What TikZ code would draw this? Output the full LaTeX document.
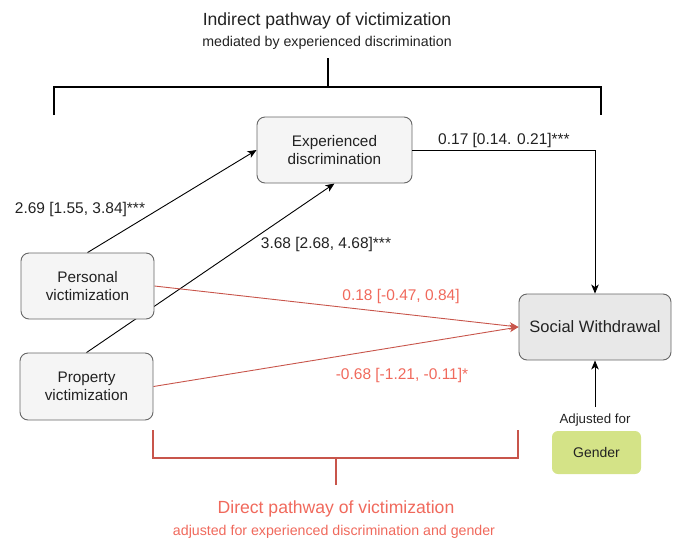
\documentclass[tikz,border=0pt]{standalone}
\usepackage{fontspec}
\setmainfont{Liberation Sans}
\usetikzlibrary{arrows.meta,backgrounds}
\definecolor{boxfill}{RGB}{245,245,245}
\definecolor{boxline}{RGB}{102,102,102}
\definecolor{socfill}{RGB}{232,232,232}
\definecolor{gendfill}{RGB}{212,227,135}
\definecolor{redline}{RGB}{200,85,75}
\definecolor{redtext}{RGB}{240,105,92}
\definecolor{txt}{RGB}{34,34,34}
\tikzset{
  vbox/.style={draw=boxline, fill=boxfill, rounded corners=8pt, line width=0.9pt,
    minimum width=#1, text=txt, align=center, inner sep=0pt,
    font=\fontsize{15.3}{18}\selectfont},
  conn/.style={line width=0.9pt, -{Stealth[length=9pt,width=7.5pt,inset=2.5pt]}},
  redconn/.style={line width=0.9pt, draw=redline, -{Stealth[length=9pt,width=7.5pt,inset=2.5pt,fill=redline]}},
  lab/.style={font=\fontsize{15.5}{18}\selectfont, text=txt, inner sep=0pt},
  redlab/.style={lab, text=redtext},
  brk/.style={line width=2.2pt},
  redbrk/.style={line width=2.2pt, draw=redline},
}
\begin{document}
\begin{tikzpicture}[x=1pt,y=-1pt]
\useasboundingbox (0,0) rectangle (673,539);
% titles
\node[font=\fontsize{17.6}{20}\selectfont, text=txt] (t1) at (327,21) {Indirect pathway of victimization};
\node[font=\fontsize{14.2}{16}\selectfont, text=txt] (t2) at (327,43) {mediated by experienced discrimination};
\node[font=\fontsize{17.6}{20}\selectfont, text=redtext] (d1) at (336,509) {Direct pathway of victimization};
\node[font=\fontsize{14.2}{16}\selectfont, text=redtext] (d2) at (334,532) {adjusted for experienced discrimination and gender};
% top bracket
\coordinate (ta) at (328,58);
\coordinate (tb) at (328,87);
\coordinate (tl) at (54,87);
\coordinate (tr) at (601,87);
\coordinate (tld) at (54,115);
\coordinate (trd) at (601,115);
\draw[brk] (ta) -- (tb);
\draw[brk] (tld) -- (tl) -- (tr) -- (trd);
% bottom bracket
\coordinate (ba) at (336,485);
\coordinate (bb) at (336,458);
\coordinate (bl) at (153,458);
\coordinate (br) at (518,458);
\coordinate (blu) at (153,430);
\coordinate (bru) at (518,430);
\draw[redbrk] (ba) -- (bb);
\draw[redbrk] (blu) -- (bl) -- (br) -- (bru);
% boxes
\node[vbox=155pt, minimum height=66pt] (exp) at (334.5,150) {Experienced\\discrimination};
\node[vbox=133pt, minimum height=66pt] (pers) at (87.5,286) {Personal\\victimization};
\node[vbox=133pt, minimum height=67pt] (prop) at (86.5,386.5) {Property\\victimization};
\node[vbox=152pt, minimum height=66pt, fill=socfill, font=\fontsize{16.5}{19}\selectfont] (soc) at (595,327) {Social Withdrawal};
\node[fill=gendfill, rounded corners=6pt, minimum width=89pt, minimum height=43pt, inner sep=0pt, text=txt, font=\fontsize{14}{16}\selectfont] (gend) at (596.5,452.5) {Gender};
\node[font=\fontsize{13.3}{15}\selectfont, text=txt, inner sep=0pt] (adj) at (595,420) {Adjusted for};
\coordinate (adjtop) at (595,407);
% connectors behind boxes
\begin{scope}[on background layer]
\draw[conn] (pers.north) -- (exp.west);
\draw[conn] (prop.north) -- (exp.south);
\draw[redconn] (pers.east) -- (soc.west);
\draw[redconn] (prop.east) -- (soc.west);
\end{scope}
\draw[conn] (exp.east) -| (soc.north);
\draw[conn] (adjtop) -- (soc.south);
% labels
\node[lab] (l1) at (80,209) {2.69 [1.55, 3.84]***};
\node[lab] (l2) at (326,244) {3.68 [2.68, 4.68]***};
\node[lab] (l3) at (504,140) {0.17 [0.14. 0.21]***};
\node[redlab] (l4) at (401,296) {0.18 [-0.47, 0.84]};
\node[redlab] (l5) at (402,375) {-0.68 [-1.21, -0.11]*};
\end{tikzpicture}
\end{document}
